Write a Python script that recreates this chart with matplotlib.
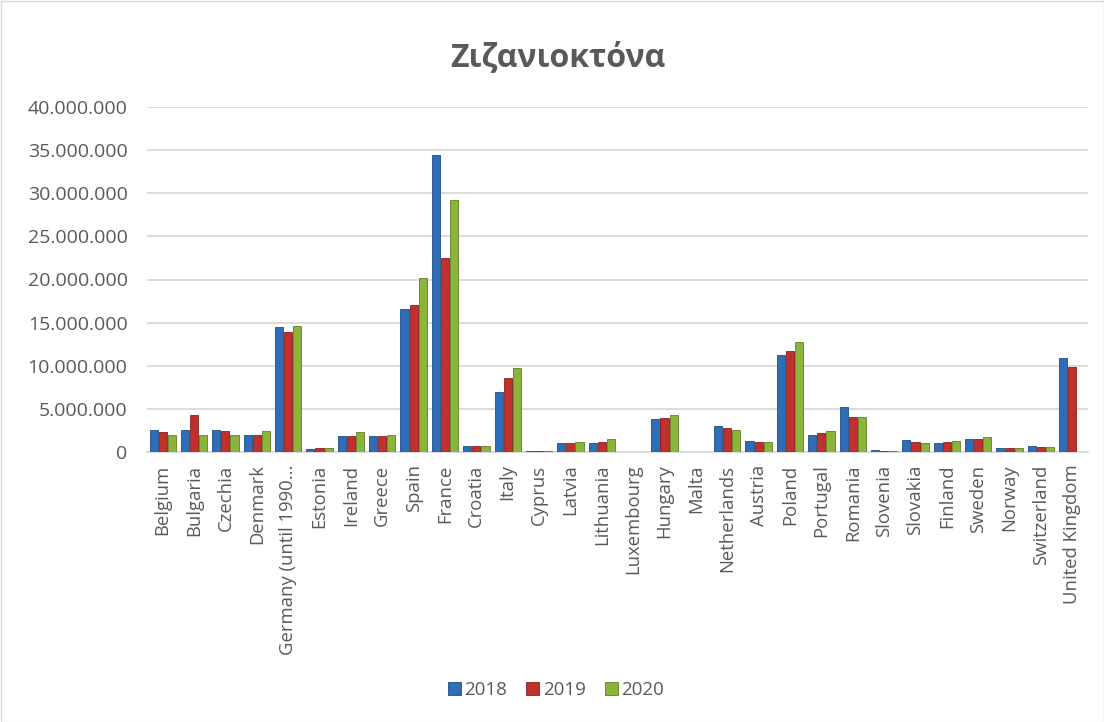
import matplotlib
matplotlib.use("Agg")
import matplotlib.pyplot as plt
import numpy as np
from matplotlib.ticker import FuncFormatter, MultipleLocator

countries = ["Belgium", "Bulgaria", "Czechia", "Denmark", "Germany (until 1990...",
             "Estonia", "Ireland", "Greece", "Spain", "France", "Croatia", "Italy",
             "Cyprus", "Latvia", "Lithuania", "Luxembourg", "Hungary", "Malta",
             "Netherlands", "Austria", "Poland", "Portugal", "Romania", "Slovenia",
             "Slovakia", "Finland", "Sweden", "Norway", "Switzerland", "United Kingdom"]

v2018 = [2.6e6, 2.6e6, 2.5e6, 2.0e6, 14.5e6, 0.35e6, 1.9e6, 1.9e6, 16.6e6, 34.4e6,
         0.75e6, 6.9e6, 0.08e6, 1.0e6, 1.05e6, 0.05e6, 3.8e6, 0.02e6, 3.0e6, 1.3e6,
         11.3e6, 1.95e6, 5.2e6, 0.2e6, 1.35e6, 1.0e6, 1.55e6, 0.45e6, 0.65e6, 10.9e6]
v2019 = [2.35e6, 4.3e6, 2.4e6, 2.0e6, 13.9e6, 0.45e6, 1.9e6, 1.8e6, 17.0e6, 22.5e6,
         0.7e6, 8.6e6, 0.06e6, 1.0e6, 1.15e6, 0.04e6, 3.9e6, 0.02e6, 2.75e6, 1.15e6,
         11.7e6, 2.25e6, 4.05e6, 0.15e6, 1.2e6, 1.15e6, 1.55e6, 0.45e6, 0.55e6, 9.8e6]
v2020 = [2.0e6, 1.95e6, 1.95e6, 2.4e6, 14.6e6, 0.45e6, 2.3e6, 1.95e6, 20.2e6, 29.2e6,
         0.75e6, 9.7e6, 0.08e6, 1.15e6, 1.5e6, 0.05e6, 4.3e6, 0.02e6, 2.6e6, 1.15e6,
         12.8e6, 2.4e6, 4.1e6, 0.15e6, 1.1e6, 1.25e6, 1.75e6, 0.5e6, 0.55e6, 0.0]

years = ["2018", "2019", "2020"]
colors = ["#2E6DB8", "#C0302C", "#8BB53A"]
edges = ["#1F4E86", "#8A1F1C", "#5F7F25"]

plt.rcParams['font.family'] = ['Open Sans', 'DejaVu Sans']
txt = "#595959"

fig = plt.figure(figsize=(11.04, 7.22), dpi=100)
ax = fig.add_axes([147/1104, 1-452/722, (1088-147)/1104, (452-107)/722])

x = np.arange(len(countries))
w = 0.26
step = 0.29
for i, (vals, c, ec, lab) in enumerate(zip([v2018, v2019, v2020], colors, edges, years)):
    ax.bar(x + (i-1)*step, vals, width=w, color=c, edgecolor=ec, linewidth=0.6,
           label=lab, zorder=3)

ax.set_xlim(-0.5, len(countries)-0.5)
ax.set_ylim(0, 40e6)
ax.yaxis.set_major_locator(MultipleLocator(5e6))
ax.yaxis.set_major_formatter(FuncFormatter(lambda v, p: f"{int(v):,}".replace(",", ".")))
ax.grid(axis='y', color="#D9D9D9", linewidth=1.3, zorder=0)
for s in ["top", "right", "left"]:
    ax.spines[s].set_visible(False)
ax.spines["bottom"].set_color("#D9D9D9")
ax.spines["bottom"].set_linewidth(1.3)
ax.tick_params(axis='y', length=0, labelsize=14, labelcolor=txt, pad=14)
ax.set_xticks(x)
ax.set_xticklabels(countries, rotation=90, fontsize=13.3, color=txt)
ax.tick_params(axis='x', length=0, pad=9)

fig.text(558/1104, 1-58/722, "Ζιζανιοκτόνα", ha='center', va='center',
         fontsize=23, fontweight='bold', color=txt)

leg = fig.legend(loc='center', bbox_to_anchor=(556/1104, 1-690/722), ncol=3,
                 frameon=False, fontsize=13.5, handlelength=0.7, handleheight=0.7,
                 columnspacing=1.0, handletextpad=0.2)
for t in leg.get_texts():
    t.set_color(txt)

border = plt.Rectangle((0.5/1104, 0.5/722), 1-1/1104, 1-1/722, transform=fig.transFigure,
                       fill=False, edgecolor="#D9D9D9", linewidth=1)
fig.patches.append(border)

fig.savefig("out.png", dpi=100, facecolor="white")
